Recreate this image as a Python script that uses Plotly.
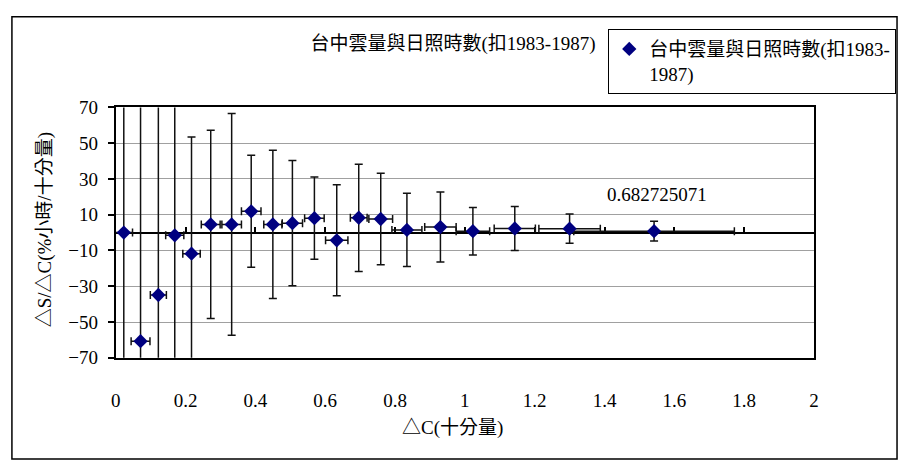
import plotly.graph_objects as go

# ---- data ----
series_name = "台中雲量與日照時數(扣1983-<br>1987)"
title_text = "台中雲量與日照時數(扣1983-1987)"
dC = [0.023, 0.071, 0.122, 0.169, 0.217, 0.272, 0.332, 0.388, 0.450, 0.506,
      0.569, 0.633, 0.696, 0.759, 0.834, 0.930, 1.023, 1.143, 1.300, 1.542]
dSdC = [0.0, -60.7, -34.9, -1.5, -11.8, 4.6, 4.6, 11.9, 4.6, 5.3,
        8.1, -4.3, 8.3, 7.6, 1.5, 3.1, 0.8, 2.3, 2.2, 0.8]
err_y = [95, 140, 120, 90, 65.3, 52.6, 62.0, 31.3, 41.5, 35.0,
         23.0, 31.0, 30.0, 25.6, 20.5, 19.6, 13.3, 12.3, 8.2, 5.5]
err_x = [0.025, 0.027, 0.023, 0.026, 0.025, 0.027, 0.028, 0.028, 0.026, 0.029,
         0.028, 0.032, 0.024, 0.034, 0.043, 0.045, 0.048, 0.059, 0.088, 0.23]
x_ticks = [0, 0.2, 0.4, 0.6, 0.8, 1, 1.2, 1.4, 1.6, 1.8, 2]
y_ticks = [-70, -50, -30, -10, 10, 30, 50, 70]
r_label = "0.682725071"

W, H = 905, 471
FONT = "Liberation Serif, Noto Sans CJK TC, serif"

def px(x):
    return x / W

def py(y):
    return 1 - y / H

xdom = [px(112), px(818)]
ydom = [py(364), py(102)]

fig = go.Figure()
fig.add_trace(go.Scatter(
    x=dC, y=dSdC, mode="markers", name=series_name,
    marker=dict(symbol="diamond", size=11, color="#000080"),
    error_y=dict(type="data", array=err_y, visible=True, color="#111", thickness=1.5, width=4),
    error_x=dict(type="data", array=err_x, visible=True, color="#111", thickness=1.5, width=4),
))
# helper trace for the x axis drawn through y = 0
fig.add_trace(go.Scatter(x=[0, 2], y=[0, 0], xaxis="x2", mode="lines",
                         line=dict(width=0), showlegend=False, hoverinfo="skip"))

fig.update_layout(
    width=W, height=H,
    margin=dict(l=0, r=0, t=0, b=0),
    paper_bgcolor="white", plot_bgcolor="white",
    font=dict(family=FONT, size=19, color="#000"),
    title=dict(text=title_text, x=px(453), xanchor="center", y=py(43), yanchor="middle",
               font=dict(family=FONT, size=19, color="#000")),
    showlegend=True,
    legend=dict(x=px(610), y=py(20), xanchor="left", yanchor="top", valign="top",
                bordercolor="#000", borderwidth=1, bgcolor="white",
                font=dict(family=FONT, size=19, color="#000"),
                itemwidth=30, tracegroupgap=0),
    xaxis=dict(domain=xdom, range=[0, 2], tickvals=x_ticks, ticktext=[str(v) for v in x_ticks],
               showgrid=False, zeroline=False, showline=True, mirror=True,
               linecolor="#000", linewidth=2, ticks="", ticklabelstandoff=24,
               tickfont=dict(family=FONT, size=19, color="#000"), layer="below traces"),
    xaxis2=dict(overlaying="x", anchor="free", position=(ydom[0] + ydom[1]) / 2,
                range=[0, 2], tickvals=x_ticks, showticklabels=False, showgrid=False,
                zeroline=False, showline=True, linecolor="#000", linewidth=2,
                ticks="inside", ticklen=5, tickwidth=1.5, tickcolor="#000", layer="below traces"),
    yaxis=dict(domain=ydom, range=[-70, 70], tickvals=y_ticks,
               showgrid=True, gridcolor="#a0a0a0", gridwidth=1,
               zeroline=False, showline=True, mirror=True, linecolor="#000", linewidth=2,
               ticks="outside", ticklen=6, tickwidth=1.5, tickcolor="#000",
               ticklabelstandoff=6,
               tickfont=dict(family=FONT, size=19, color="#000"), layer="below traces"),
    shapes=[dict(type="rect", xref="paper", yref="paper",
                 x0=px(7), x1=px(902), y0=py(470), y1=py(7),
                 line=dict(color="#000", width=1.5), fillcolor="rgba(0,0,0,0)")],
    annotations=[
        dict(text="△C(十分量)", xref="paper", yref="paper", x=px(453), y=py(437),
             showarrow=False, xanchor="center", yanchor="middle",
             font=dict(family=FONT, size=19, color="#000")),
        dict(text="△S/△C(%小時/十分量)", xref="paper", yref="paper", x=px(40), y=py(230),
             showarrow=False, textangle=-90, xanchor="center", yanchor="middle",
             font=dict(family=FONT, size=19, color="#000")),
        dict(text=r_label, xref="x", yref="y", x=1.549, y=21.3, showarrow=False,
             xanchor="center", yanchor="middle",
             font=dict(family=FONT, size=19, color="#000")),
    ],
)

fig.write_html("out.html",
               post_script="document.body.style.margin='0';document.body.style.overflow='hidden';",
               config={"displayModeBar": False})
